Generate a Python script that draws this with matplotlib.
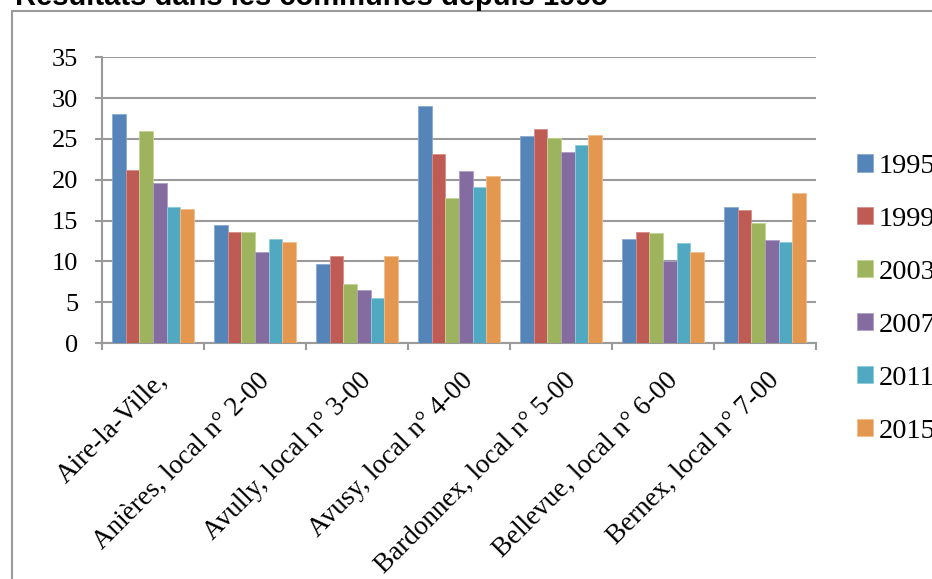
import numpy as np
import matplotlib
matplotlib.use("Agg")
import matplotlib.pyplot as plt
from matplotlib.patches import Rectangle
from matplotlib.transforms import ScaledTranslation

# data
communes = ["Aire-la-Ville,", "Anières, local n° 2-00", "Avully, local n° 3-00",
            "Avusy, local n° 4-00", "Bardonnex, local n° 5-00",
            "Bellevue, local n° 6-00", "Bernex, local n° 7-00"]
years = ["1995", "1999", "2003", "2007", "2011", "2015"]
v1995 = [28.0, 14.4, 9.7, 29.0, 25.3, 12.7, 16.6]
v1999 = [21.2, 13.6, 10.6, 23.1, 26.2, 13.6, 16.3]
v2003 = [26.0, 13.6, 7.2, 17.8, 25.1, 13.5, 14.7]
v2007 = [19.6, 11.1, 6.5, 21.1, 23.4, 10.0, 12.6]
v2011 = [16.6, 12.8, 5.5, 19.1, 24.3, 12.2, 12.4]
v2015 = [16.4, 12.4, 10.6, 20.4, 25.5, 11.2, 18.4]
series = [v1995, v1999, v2003, v2007, v2011, v2015]

colors = ["#5584B8", "#BE5B54", "#9DB35E", "#846CA0", "#50A9C0", "#E4974F"]
edges = ["#8AAAD2", "#D98C86", "#C2D493", "#AE9CC6", "#8ACCDC", "#F2BD8E"]
grey = "#9A9A9A"
serif = ["Liberation Serif", "DejaVu Serif"]

W, H = 932, 579
fig = plt.figure(figsize=(W / 100, H / 100), dpi=100)
ax = fig.add_axes([102 / W, 1 - 343 / H, 714 / W, (343 - 57.3) / H])

# outer chart frame (runs off the page right and bottom)
fig.patches.append(Rectangle((12 / W, -0.1), 1.2, 1 - 10.5 / H + 0.1,
                             transform=fig.transFigure, fill=False,
                             edgecolor=grey, linewidth=1.5, zorder=0))

fig.text(15 / W, 1 - 5 / H, "Résultats dans les communes depuis 1995",
         fontsize=21, fontweight="bold", family=["Liberation Sans", "DejaVu Sans"],
         va="baseline", ha="left")

x = np.arange(len(communes))
bw = 0.8 / len(years)
for i, (yr, vals) in enumerate(zip(years, series)):
    ax.bar(x + (i - 2.5) * bw, vals, width=bw, color=colors[i],
           edgecolor=edges[i], linewidth=0.6, label=yr, zorder=3)

ax.set_xlim(-0.5, len(communes) - 0.5)
ax.set_ylim(0, 35)
ax.set_yticks(range(0, 36, 5))
ax.yaxis.grid(True, color=grey, linewidth=1.5, zorder=0)
ax.set_axisbelow(True)

for s in ["top", "right"]:
    ax.spines[s].set_visible(False)
for s in ["left", "bottom"]:
    ax.spines[s].set_color(grey)
    ax.spines[s].set_linewidth(1.5)

ax.tick_params(axis="y", length=5, width=1.5, color=grey, pad=12,
               labelsize=19)
for lab in ax.get_yticklabels():
    lab.set_family(serif)

# ticks on category boundaries, labels at centres
ax.set_xticks(np.arange(-0.5, len(communes)), minor=True)
ax.set_xticks(x)
ax.tick_params(axis="x", which="minor", length=5, width=1.5, color=grey)
ax.tick_params(axis="x", which="major", length=0, pad=18)
ax.set_xticklabels(communes, rotation=45, ha="right", va="top",
                   rotation_mode="anchor", fontsize=19.5, family=serif)
shift = ScaledTranslation(2 / 100, 0, fig.dpi_scale_trans)
for lab in ax.get_xticklabels():
    lab.set_transform(lab.get_transform() + shift)

fig.legend(loc="upper left", bbox_to_anchor=(857 / W, 1 - 154 / H),
           frameon=False, prop={"family": serif, "size": 20.5},
           handlelength=0.55, handleheight=0.55, handletextpad=0.22,
           labelspacing=0.98, borderpad=0, borderaxespad=0)

fig.savefig("out.png", dpi=100)
